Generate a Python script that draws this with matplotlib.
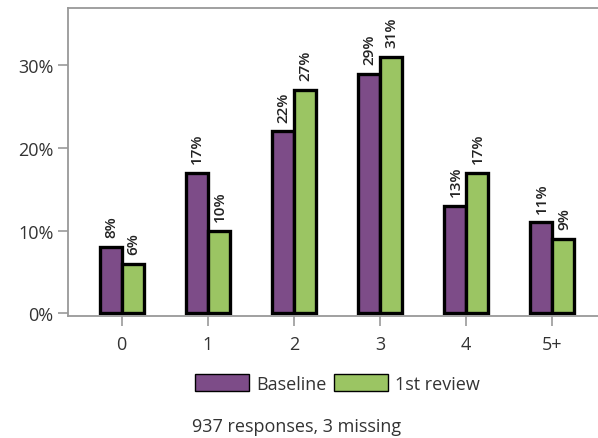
import matplotlib.pyplot as plt
import numpy as np
from matplotlib.patches import Patch

plt.rcParams['font.family'] = ['Open Sans', 'DejaVu Sans']

categories = ['0', '1', '2', '3', '4', '5+']
baseline = [8, 17, 22, 29, 13, 11]
review = [6, 10, 27, 31, 17, 9]
series_names = ['Baseline', '1st review']

purple = '#7d4c88'
green = '#9bc563'

fig = plt.figure(figsize=(5.98, 4.39), dpi=100)
ax = fig.add_axes([0.114, 0.279, 0.886, 0.700])

x = np.arange(len(categories))
w = 0.256
b1 = ax.bar(x - w / 2, baseline, w, color=purple, edgecolor='black', linewidth=2.4)
b2 = ax.bar(x + w / 2, review, w, color=green, edgecolor='black', linewidth=2.4)

# value labels, rotated, above each bar
for bars, vals in [(b1, baseline), (b2, review)]:
    for r, v in zip(bars, vals):
        ax.annotate(f'{v}%', (r.get_x() + r.get_width() / 2, v),
                    xytext=(0.5, 7), textcoords='offset points',
                    rotation=90, ha='center', va='bottom',
                    fontsize=11, fontweight='semibold', color='#222222')

ax.set_xlim(-0.62, 5.53)
ax.set_ylim(-0.28, 36.9)
ax.set_yticks([0, 10, 20, 30])
ax.set_yticklabels([f'{t}%' for t in [0, 10, 20, 30]])
ax.set_xticks(x)
ax.set_xticklabels(categories)

for s in ['left', 'top', 'bottom']:
    ax.spines[s].set_color('#999999')
    ax.spines[s].set_linewidth(1.3)
ax.spines['right'].set_visible(False)
ax.tick_params(axis='both', colors='#999999', labelcolor='#333333',
               labelsize=13, length=7, width=1.2)
ax.tick_params(axis='x', pad=7)

handles = [Patch(facecolor=purple, edgecolor='black', linewidth=1),
           Patch(facecolor=green, edgecolor='black', linewidth=1)]
fig.legend(handles, series_names, loc='center', bbox_to_anchor=(0.564, 0.125),
           ncol=2, frameon=False, fontsize=13, handlelength=3.0, handleheight=1.1,
           handletextpad=0.4, columnspacing=0.4, labelcolor='#333333')

fig.text(192 / 598, 1 - 427 / 439, '937 responses, 3 missing', fontsize=13,
         color='#333333', ha='left', va='center')

fig.savefig('out.png', dpi=100)
